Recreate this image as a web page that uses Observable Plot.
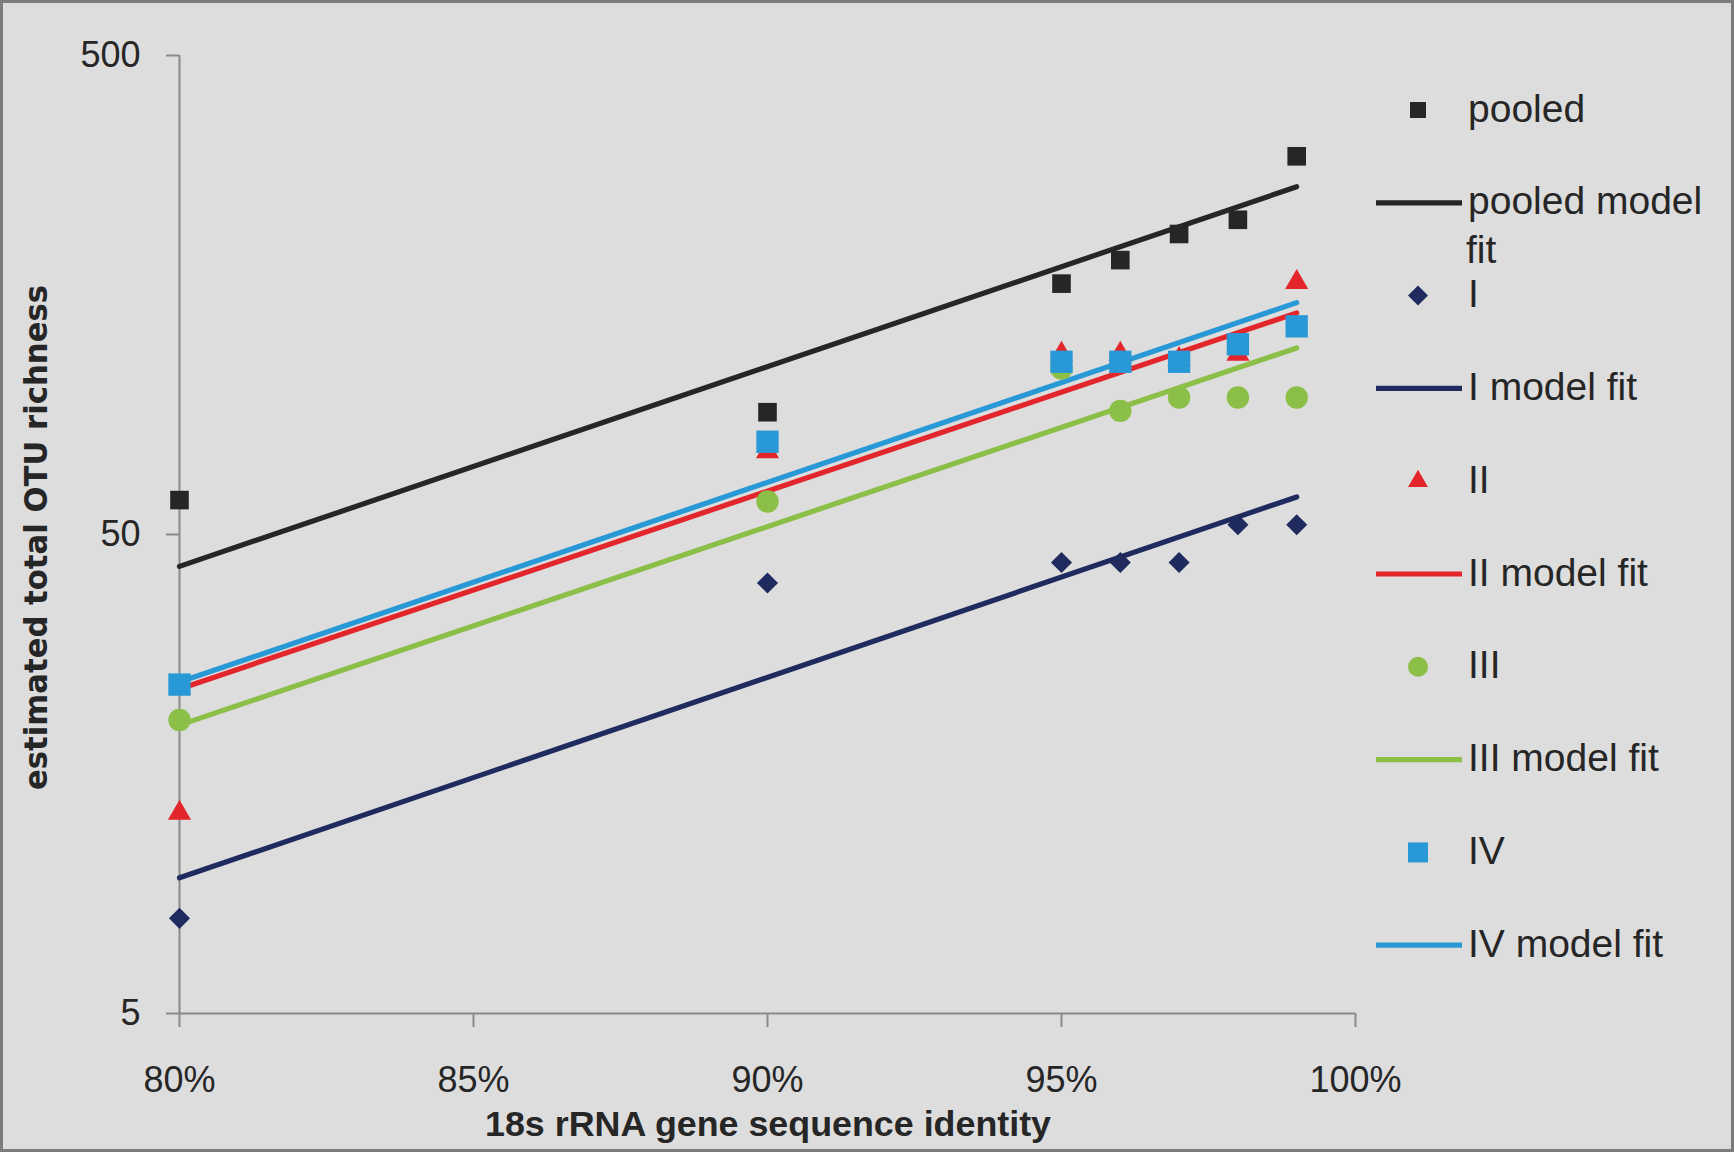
<!DOCTYPE html>
<html>
<head>
<meta charset="utf-8">
<script src="https://cdn.jsdelivr.net/npm/d3@7"></script>
<script src="https://cdn.jsdelivr.net/npm/@observablehq/plot@0.6"></script>
<style>
  html, body { margin: 0; padding: 0; background: #dddddd; }
  #wrap { position: relative; width: 1734px; height: 1152px; overflow: hidden; }
  #frame { position: absolute; left: 0; top: 0; width: 1734px; height: 1152px; box-sizing: border-box; border: 3px solid #7c7c7c; pointer-events: none; }
</style>
</head>
<body>
<div id="wrap"><div id="frame"></div></div>
<script>
// ---- data ----
const identity = [80, 90, 95, 96, 97, 98, 99];
const pooled   = [59, 90, 167, 187, 212, 227, 308];
const groupI   = [7.9, 39.6, 43.7, 43.7, 43.7, 52.4, 52.4];
const groupII  = [13.1, 74.5, 119, 119, 116, 119, 168];
const groupIII = [20.5, 58.6, 111, 90.6, 96.6, 96.6, 96.6];
const groupIV  = [24.3, 78.1, 114.7, 114.7, 114.7, 124.8, 136];

// model fit (exponential fits) evaluated at the ends of the fitted range
const fitRange    = [80, 99];
const pooledFit   = [42.9, 266];
const groupIFit   = [9.6, 59.9];
const groupIIFit  = [23.8, 145];
const groupIIIFit = [20.0, 122.6];
const groupIVFit  = [24.6, 152.4];

const seriesNames = ["pooled", "I", "II", "III", "IV"];
const seriesColors = ["#262626", "#1f2b5e", "#e2262b", "#8cbf47", "#2899d6"];
const xTicks = [80, 85, 90, 95, 100];
const yTicks = [5, 50, 500];

// ---- tables ----
const seriesValues = [pooled, groupI, groupII, groupIII, groupIV];
const fitValues = [pooledFit, groupIFit, groupIIFit, groupIIIFit, groupIVFit];
const points = seriesNames.flatMap((s, k) => identity.map((x, i) => ({series: s, x, y: seriesValues[k][i]})));
const fits = seriesNames.flatMap((s, k) => fitRange.map((x, i) => ({series: s, x, y: fitValues[k][i]})));

const symbols = {pooled: d3.symbolSquare, I: d3.symbolDiamond2, II: d3.symbolTriangle, III: d3.symbolCircle, IV: d3.symbolSquare};
const radius = {pooled: 10.5, I: 9.5, II: 8.6, III: 11.2, IV: 12.6};
const colorOf = Object.fromEntries(seriesNames.map((s, i) => [s, seriesColors[i]]));

const W = 1734, H = 1152;
const plot = Plot.plot({
  width: W, height: H,
  marginLeft: 179, marginRight: 379, marginTop: 55, marginBottom: 139,
  style: {background: "#dddddd", fontFamily: "'Liberation Sans', Arial, sans-serif", fontSize: "36px", color: "#262626", overflow: "visible"},
  x: {domain: [80, 100]},
  y: {type: "log", domain: [5, 500]},
  color: {domain: seriesNames, range: seriesColors},
  marks: [
    Plot.axisX({ticks: xTicks, tickFormat: d => d + "%", tickSize: 14, tickPadding: 39, stroke: "#8a8a8a", strokeWidth: 2, fill: "#262626", label: null}),
    Plot.axisY({ticks: yTicks, tickFormat: d => String(d), tickSize: 13, tickPadding: 26, stroke: "#8a8a8a", strokeWidth: 2, fill: "#262626", label: null}),
    Plot.ruleX([80], {stroke: "#8a8a8a", strokeWidth: 2}),
    Plot.ruleY([5], {stroke: "#8a8a8a", strokeWidth: 2}),
    Plot.line(fits, {x: "x", y: "y", z: "series", stroke: "series", strokeWidth: 5.2}),
    ...seriesNames.map(s => Plot.dot(points.filter(d => d.series === s), {
      x: "x", y: "y", fill: colorOf[s], stroke: "none", symbol: symbols[s], r: radius[s]
    }))
  ]
});
document.getElementById("wrap").insertBefore(plot, document.getElementById("frame"));

// ---- titles ----
const svg = d3.select(plot);
svg.append("text")
  .attr("x", 768).attr("y", 1136)
  .attr("text-anchor", "middle")
  .attr("font-family", "'Liberation Sans', Arial, sans-serif")
  .attr("font-weight", "bold").attr("font-size", 35)
  .attr("fill", "#262626")
  .attr("textLength", 566).attr("lengthAdjust", "spacingAndGlyphs")
  .text("18s rRNA gene sequence identity");
svg.append("text")
  .attr("transform", "translate(47,537.5) rotate(-90)")
  .attr("text-anchor", "middle")
  .attr("font-family", "'DejaVu Sans', Verdana, sans-serif")
  .attr("font-weight", "bold").attr("font-size", 32)
  .attr("fill", "#262626")
  .attr("textLength", 505).attr("lengthAdjust", "spacingAndGlyphs")
  .text("estimated total OTU richness");

// ---- legend ----
const legendItems = seriesNames.flatMap(s => [
  {series: s, kind: "marker", label: [s]},
  {series: s, kind: "line", label: s === "pooled" ? ["pooled model", "fit"] : [s + " model fit"]}
]);
const lg = svg.append("g")
  .attr("font-family", "'Liberation Sans', Arial, sans-serif")
  .attr("font-size", 39).attr("fill", "#262626").attr("text-anchor", "start");
const legendR = {pooled: 9, I: 9, II: 7.4, III: 10, IV: 11.3};
legendItems.forEach((item, i) => {
  const cy = 110 + i * 92.8;
  if (item.kind === "marker") {
    lg.append("path")
      .attr("transform", `translate(1418,${cy})`)
      .attr("d", d3.symbol(symbols[item.series], legendR[item.series] ** 2 * Math.PI)())
      .attr("fill", colorOf[item.series]);
  } else {
    lg.append("line").attr("x1", 1376).attr("x2", 1462).attr("y1", cy).attr("y2", cy)
      .attr("stroke", colorOf[item.series]).attr("stroke-width", 5.2);
  }
  item.label.forEach((t, j) => {
    lg.append("text").attr("text-anchor", "start")
      .attr("x", j === 0 ? 1468 : 1466).attr("y", cy + 11.5 + j * 49).text(t);
  });
});
</script>
</body>
</html>
